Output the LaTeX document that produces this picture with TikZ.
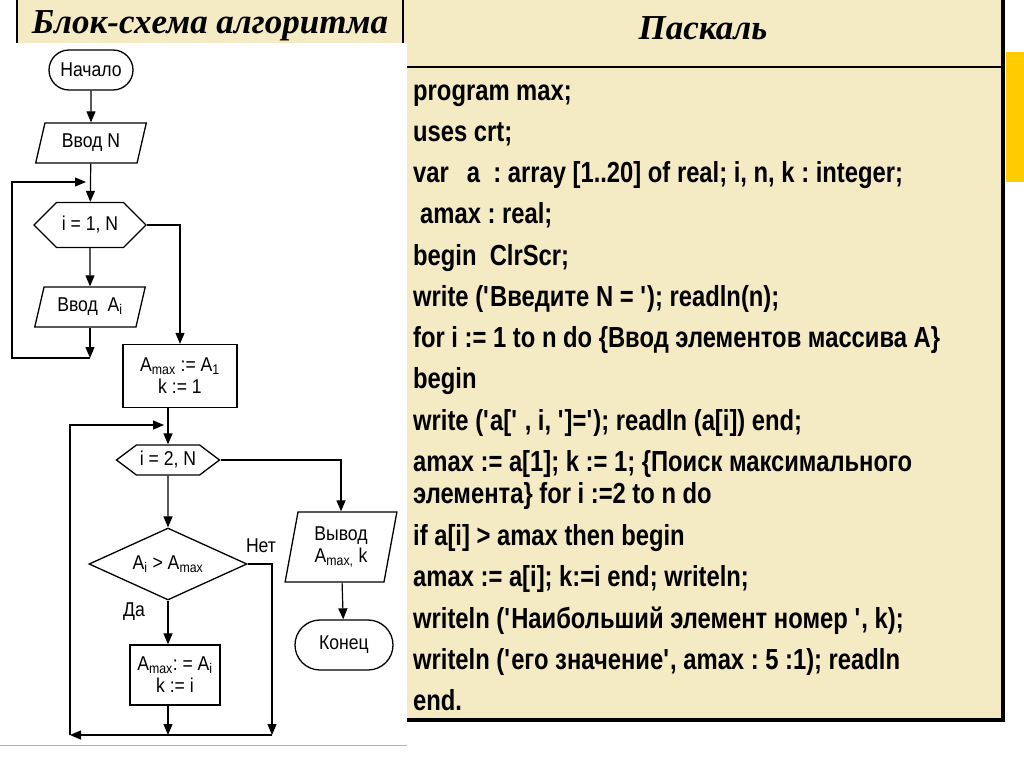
\documentclass[tikz,border=0pt]{standalone}
\usepackage{fontspec}
\setmainfont{Liberation Serif}
\newfontfamily\codefont[FakeStretch=0.82]{Liberation Sans}
\newfontfamily\chartfont[FakeStretch=0.88]{Liberation Sans}
\usetikzlibrary{positioning,arrows.meta,calc,shapes.geometric,shapes.misc,shapes.symbols}
\definecolor{cellbg}{HTML}{F4EAC3}
\definecolor{barclr}{HTML}{FFCC00}
\newcommand{\sq}{\textquotesingle}
\frenchspacing

\tikzset{
  chart/.style={font=\chartfont\fontsize{20}{22}\selectfont},
  term/.style={chart, rounded rectangle, draw, line width=1.3pt, inner sep=2pt},
  io/.style={chart, trapezium, trapezium stretches=true, draw, line width=1.3pt,
    align=center, inner sep=1pt},
  loopbox/.style={chart, signal, signal to=east and west, draw, line width=1.3pt, inner sep=1pt},
  proc/.style={chart, rectangle, draw, line width=1.3pt, align=center, inner sep=1pt},
  decide/.style={chart, diamond, aspect=2.2, draw, line width=1.3pt, inner sep=0pt},
  arr/.style={line width=1.2pt, -{Triangle[length=11pt,width=9pt]}},
  headtitle/.style={font=\fontsize{35}{37}\selectfont\bfseries\itshape},
  codeline/.style={anchor=base west, inner sep=0pt, font=\codefont\bfseries\fontsize{29}{31}\selectfont}
}

\begin{document}
\begin{tikzpicture}[x=1pt,y=-1pt]
\useasboundingbox (0,0) rectangle (1024,767);
% table background
\fill[white] (0,0) rectangle (1024,767);
\fill[cellbg] (17,0) rectangle (1003,720);
\fill[barclr] (1006,52) rectangle (1024,182);
\fill[white] (0,43) rectangle (407,745);
\draw[gray!60, line width=0.8pt] (0,745) -- (407,745);
\draw[line width=2pt] (17,0) -- (17,43);
\draw[line width=2pt] (403,0) -- (403,43);
\draw[line width=2pt] (407,67) -- (1003,67);
\draw[line width=4pt] (1003,0) -- (1003,722);
\draw[line width=4pt] (407,720) -- (1005,720);

\node[headtitle] (lefthead) at (210,26) {Блок-схема алгоритма};
\node[headtitle] (righthead) at (703,28) {Паскаль};

% flowchart
\node[term, minimum width=88pt, minimum height=40pt] (start) at (91,70) {Начало};
\node[io, trapezium left angle=73, trapezium right angle=107, minimum width=111pt, minimum height=40pt] (inN) at (91,143) {Ввод N};
\node[loopbox, signal pointer angle=90, minimum width=112pt, minimum height=45pt] (hexA) at (90,225) {i = 1, N};
\node[io, trapezium left angle=71, trapezium right angle=109, minimum width=111pt, minimum height=40pt] (inA) at (90,307) {Ввод\ \ A\textsubscript{i}};
\node[proc, minimum width=114pt, minimum height=63pt] (initmax) at (180,376) {A\textsubscript{max} := A\textsubscript{1}\\k := 1};
\node[loopbox, signal pointer angle=74, minimum width=103pt, minimum height=30pt] (hexB) at (168,460) {i = 2, N};
\node[decide, minimum width=158pt, minimum height=72pt] (cmp) at (168,564) {A\textsubscript{i} > A\textsubscript{max}};
\node[proc, minimum width=90pt, minimum height=60pt] (setmax) at (175,675) {A\textsubscript{max}: = A\textsubscript{i}\\k := i};
\node[io, trapezium left angle=79, trapezium right angle=101, minimum width=112pt, minimum height=70pt] (outp) at (341,547) {Вывод\\A\textsubscript{max,} k};
\node[term, minimum width=102pt, minimum height=50pt] (fin) at (344,645) {Конец};
\node[chart] (no) at (261,546) {Нет};
\node[chart] (yes) at (134,612) {Да};

\coordinate (c1) at (90,358);
\coordinate (c2) at (12,182);
\coordinate (c3) at (86,182);
\coordinate (m0) at (164,425);
\coordinate (m1) at (70,735);
\coordinate (m2) at (272,735);

\draw[arr] (start) -- (inN);
\draw[arr] (inN) -- (hexA);
\draw[arr] (hexA) -- (inA);
\draw[arr] (inA) -- (c1);
\draw[arr] (c1) -| (c2) -- (c3);
\draw[arr] (hexA.east) -| (initmax.north);
\draw[arr] (initmax.south -| hexB.north) -- (hexB.north);
\draw[arr] (hexB.east) -| (outp.north);
\draw[arr] (outp) -- (fin);
\draw[arr] (hexB) -- (cmp);
\draw[arr] (cmp.south) -- (cmp.south |- setmax.north);
\draw[arr] (cmp.south |- setmax.south) -- (cmp.south |- m1);
\draw[arr] (cmp.east) -| (m2);
\draw[arr] (m2) -- (m1);
\draw[arr] (m1) |- (m0);

% program text
\node[codeline] (l1) at (413,101) {program max;};
\node[codeline] (l2) at (413,142) {uses crt;};
\node[codeline] (l3) at (413,183) {var\hspace{18pt}a\ \ : array [1..20] of real; i, n, k : integer;};
\node[codeline] (l4) at (413,223) {\hspace*{7pt}amax : real;};
\node[codeline] (l5) at (413,265) {begin\ \ ClrScr;};
\node[codeline] (l6) at (413,306) {write (\sq Введите N = \sq); readln(n);};
\node[codeline] (l7) at (413,347) {for i := 1 to n do \{Ввод элементов массива A\}};
\node[codeline] (l8) at (413,388) {begin};
\node[codeline] (l9) at (413,430) {write (\sq a[\sq\ , i, \sq]=\sq); readln (a[i]) end;};
\node[codeline] (l10) at (413,471) {amax := a[1]; k := 1; \{Поиск максимального};
\node[codeline] (l11) at (413,503) {элемента\} for i :=2 to n do};
\node[codeline] (l12) at (413,545) {if a[i] > amax then begin};
\node[codeline] (l13) at (413,586) {amax := a[i]; k:=i end; writeln;};
\node[codeline] (l14) at (413,628) {writeln (\sq Наибольший элемент номер \sq, k);};
\node[codeline] (l15) at (413,669) {writeln (\sq его значение\sq, amax : 5 :1); readln};
\node[codeline] (l16) at (413,710) {end.};
\end{tikzpicture}
\end{document}
